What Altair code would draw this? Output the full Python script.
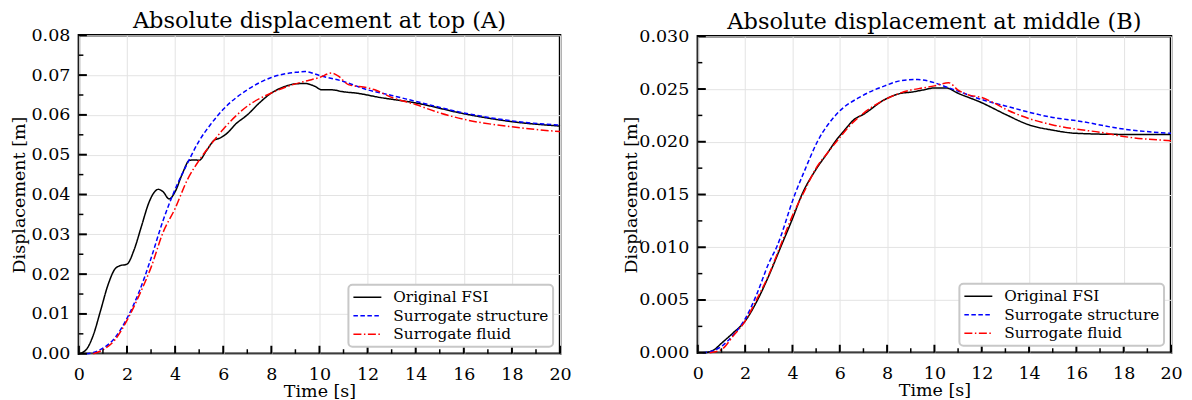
import altair as alt
import pandas as pd

FONT = "DejaVu Serif"
SERIES = ["Original FSI", "Surrogate structure", "Surrogate fluid"]
COLORS = ["#000000", "#0000ff", "#ff0000"]
DASHES = [[1, 0], [4.5, 2.5], [8, 2.5, 1.5, 2.5]]

# ---------------- Panel A: top ----------------
a_fsi_t = [0, 0.3, 0.6, 0.9, 1.2, 1.5, 1.7, 2.0, 2.3, 2.6, 2.9, 3.1, 3.3, 3.5, 3.75, 4.0, 4.3, 4.6,
           4.8, 5.0, 5.3, 5.6, 5.9, 6.2, 6.5, 7.0, 7.5, 8.0, 8.5, 9.0, 9.4, 9.8, 10.1, 10.5, 11.0,
           11.5, 12.5, 14.0, 16.0, 18.0, 20.0]
a_fsi_v = [0, 0.001, 0.0047, 0.0108, 0.0171, 0.0213, 0.0221, 0.0225, 0.0262, 0.032, 0.0378, 0.0403,
           0.0413, 0.0407, 0.0389, 0.0407, 0.0452, 0.0486, 0.0487, 0.0486, 0.051, 0.0535, 0.0543,
           0.0556, 0.0576, 0.060, 0.063, 0.0655, 0.067, 0.0678, 0.0679, 0.0672, 0.0663, 0.0663,
           0.0658, 0.0655, 0.0644, 0.063, 0.0603, 0.0583, 0.0572]

a_str_t = [0.3, 0.6, 1.0, 1.5, 2.0, 2.5, 3.0, 3.5, 4.0, 4.5, 5.0, 5.5, 6.0, 7.0, 8.0, 9.0, 9.4, 10.0,
           11.0, 12.0, 13.0, 14.0, 16.0, 18.0, 20.0]
a_str_v = [0, 0.0003, 0.0014, 0.004, 0.0089, 0.0155, 0.024, 0.0335, 0.0413, 0.0477, 0.0535, 0.0578,
           0.0614, 0.0663, 0.0694, 0.0707, 0.0709, 0.0699, 0.0684, 0.0663, 0.0649, 0.0634, 0.0605,
           0.0585, 0.0574]

a_flu_t = [0.6, 1.0, 1.5, 2.0, 2.5, 3.0, 3.5, 4.0, 4.5, 5.0, 5.5, 6.0, 7.0, 8.0, 9.0, 9.5, 10.0,
           10.5, 10.8, 11.2, 12.0, 12.3, 13.0, 14.0, 15.0, 16.0, 18.0, 20.0]
a_flu_v = [0, 0.001, 0.0035, 0.0084, 0.0146, 0.0217, 0.0305, 0.0365, 0.0436, 0.0486, 0.0527,
           0.0564, 0.0622, 0.0655, 0.0678, 0.0686, 0.0694, 0.0705, 0.0697, 0.0676, 0.0668, 0.0663,
           0.0644, 0.0626, 0.0605, 0.0589, 0.057, 0.0558]

# ---------------- Panel B: middle ----------------
b_fsi_t = [0.3, 0.7, 1.0, 1.5, 2.0, 2.5, 3.0, 3.5, 4.0, 4.4, 5.0, 5.5, 5.8, 6.2, 6.6, 7.0, 7.9,
           8.6, 9.0, 9.5, 10.0, 10.5, 11.0, 12.0, 13.0, 14.0, 15.0, 16.0, 18.0, 20.0]
b_fsi_v = [0, 0.0003, 0.0009, 0.0019, 0.003, 0.0049, 0.0073, 0.010, 0.0127, 0.015, 0.0174, 0.019,
           0.020, 0.0211, 0.0221, 0.0226, 0.024, 0.0246, 0.0247, 0.0249, 0.0251, 0.0251, 0.0246,
           0.0237, 0.0226, 0.0216, 0.0211, 0.0208, 0.0207, 0.0207]

b_str_t = [0.2, 0.5, 1.0, 1.5, 2.0, 2.5, 3.0, 3.33, 4.1, 4.5, 5.05, 5.9, 6.9, 7.9, 8.6, 9.3, 10.0,
           10.5, 11.0, 12.0, 13.0, 14.0, 15.0, 16.0, 18.0, 20.0]
b_str_v = [0, 0.0001, 0.0006, 0.0017, 0.0032, 0.0056, 0.0085, 0.010, 0.015, 0.0172, 0.020, 0.0227,
           0.0243, 0.0253, 0.0258, 0.0259, 0.0256, 0.0252, 0.0248, 0.024, 0.0234, 0.0228, 0.0223,
           0.022, 0.0212, 0.0208]

b_flu_t = [0.5, 1.0, 1.5, 2.0, 2.5, 3.0, 3.5, 4.0, 4.5, 5.0, 5.5, 6.0, 6.5, 7.0, 8.0, 9.0, 9.5,
           10.0, 10.6, 11.0, 11.5, 12.0, 12.5, 13.0, 14.0, 15.0, 16.0, 17.0, 18.0, 20.0]
b_flu_v = [0, 0.0003, 0.0016, 0.003, 0.0051, 0.0074, 0.0102, 0.013, 0.0153, 0.0175, 0.019, 0.0204,
           0.0217, 0.0227, 0.0241, 0.0249, 0.0251, 0.0253, 0.0256, 0.0249, 0.0244, 0.0242, 0.0237,
           0.0231, 0.0222, 0.0216, 0.0212, 0.0209, 0.0205, 0.0201]

# ---------------- ticks ----------------
X_MAJOR = [0, 2, 4, 6, 8, 10, 12, 14, 16, 18, 20]
X_MINOR = [1, 3, 5, 7, 9, 11, 13, 15, 17, 19]
A_Y_MAJOR = [0, 0.01, 0.02, 0.03, 0.04, 0.05, 0.06, 0.07, 0.08]
A_Y_MINOR = [0.005, 0.015, 0.025, 0.035, 0.045, 0.055, 0.065, 0.075]
B_Y_MAJOR = [0, 0.005, 0.010, 0.015, 0.020, 0.025, 0.030]
B_Y_MINOR = [0.0025, 0.0075, 0.0125, 0.0175, 0.0225, 0.0275]


def long_df(parts):
    rows = []
    for name, ts, vs in parts:
        for t, v in zip(ts, vs):
            rows.append({"t": t, "v": v, "series": name})
    return pd.DataFrame(rows)


def panel(df, title, ymax, ymajor, yminor, yfmt, width, height, ytitle_pad):
    xaxis = alt.Axis(values=X_MAJOR, format="d", title="Time [s]", grid=True, ticks=False,
                     tickSize=0, domain=False, labelFlush=False, labelPadding=12,
                     titlePadding=-1)
    yaxis = alt.Axis(values=ymajor, format=yfmt, title="Displacement [m]", grid=True,
                     ticks=False, tickSize=0, domain=False, labelFlush=False, labelPadding=9,
                     titlePadding=ytitle_pad)
    xenc = alt.X("t:Q", scale=alt.Scale(domain=[0, 20], nice=False, zero=False), axis=xaxis)
    yenc = alt.Y("v:Q", scale=alt.Scale(domain=[0, ymax], nice=False), axis=yaxis)

    leg = alt.Legend(title=None, orient="bottom-right", offset=7, symbolType="stroke",
                     symbolSize=784, symbolStrokeWidth=1.5, labelFont=FONT, labelFontSize=15.3,
                     labelColor="black", labelOffset=11, strokeColor="#c8c8c8",
                     fillColor="white", padding=4, cornerRadius=4, rowPadding=1.5,
                     clipHeight=17)

    lines = alt.Chart(df).mark_line(strokeWidth=1.5, interpolate="monotone").encode(
        x=xenc,
        y=yenc,
        color=alt.Color("series:N", scale=alt.Scale(domain=SERIES, range=COLORS), legend=leg),
        strokeDash=alt.StrokeDash("series:N", scale=alt.Scale(domain=SERIES, range=DASHES),
                                  legend=leg),
    )

    xmaj = alt.Chart(pd.DataFrame({"t": X_MAJOR})).mark_rule(color="black", strokeWidth=2).encode(
        x=xenc, y=alt.value(height), y2=alt.value(height - 8))
    xmin = alt.Chart(pd.DataFrame({"t": X_MINOR})).mark_rule(color="black", strokeWidth=1.5).encode(
        x=xenc, y=alt.value(height), y2=alt.value(height - 4.5))
    ymaj = alt.Chart(pd.DataFrame({"v": ymajor})).mark_rule(color="black", strokeWidth=2).encode(
        y=yenc, x=alt.value(0), x2=alt.value(8))
    ymin = alt.Chart(pd.DataFrame({"v": yminor})).mark_rule(color="black", strokeWidth=1.5).encode(
        y=yenc, x=alt.value(0), x2=alt.value(4.5))

    return alt.layer(lines, xmaj, xmin, ymaj, ymin).properties(
        width=width, height=height,
        title=alt.TitleParams(title, font=FONT, fontSize=22.5, fontWeight="normal",
                              color="black", frame="group", offset=-6.5),
    )


df_a = long_df([(SERIES[0], a_fsi_t, a_fsi_v), (SERIES[1], a_str_t, a_str_v),
                (SERIES[2], a_flu_t, a_flu_v)])
df_b = long_df([(SERIES[0], b_fsi_t, b_fsi_v), (SERIES[1], b_str_t, b_str_v),
                (SERIES[2], b_flu_t, b_flu_v)])

left = panel(df_a, "Absolute displacement at top (A)", 0.08, A_Y_MAJOR, A_Y_MINOR, ".2f",
             482, 319, 3)
right = panel(df_b, "Absolute displacement at middle (B)", 0.030, B_Y_MAJOR, B_Y_MINOR, ".3f",
              474, 317, -2)

chart = alt.hconcat(left, right, spacing=138, bounds="flush", center=True).properties(
    padding={"left": 0, "top": 0, "right": 0, "bottom": 0}
).resolve_scale(color="independent", strokeDash="independent").configure_view(
    stroke="black", strokeWidth=2.5
).configure_axis(
    labelFont=FONT, titleFont=FONT, labelFontSize=17.5, titleFontSize=17.5, labelColor="black",
    titleColor="black", titleFontWeight="normal", gridColor="#e3e3e3", gridWidth=1,
).configure_legend(strokeWidth=2)

chart.save("out.html", embed_options={"renderer": "svg", "actions": False})
